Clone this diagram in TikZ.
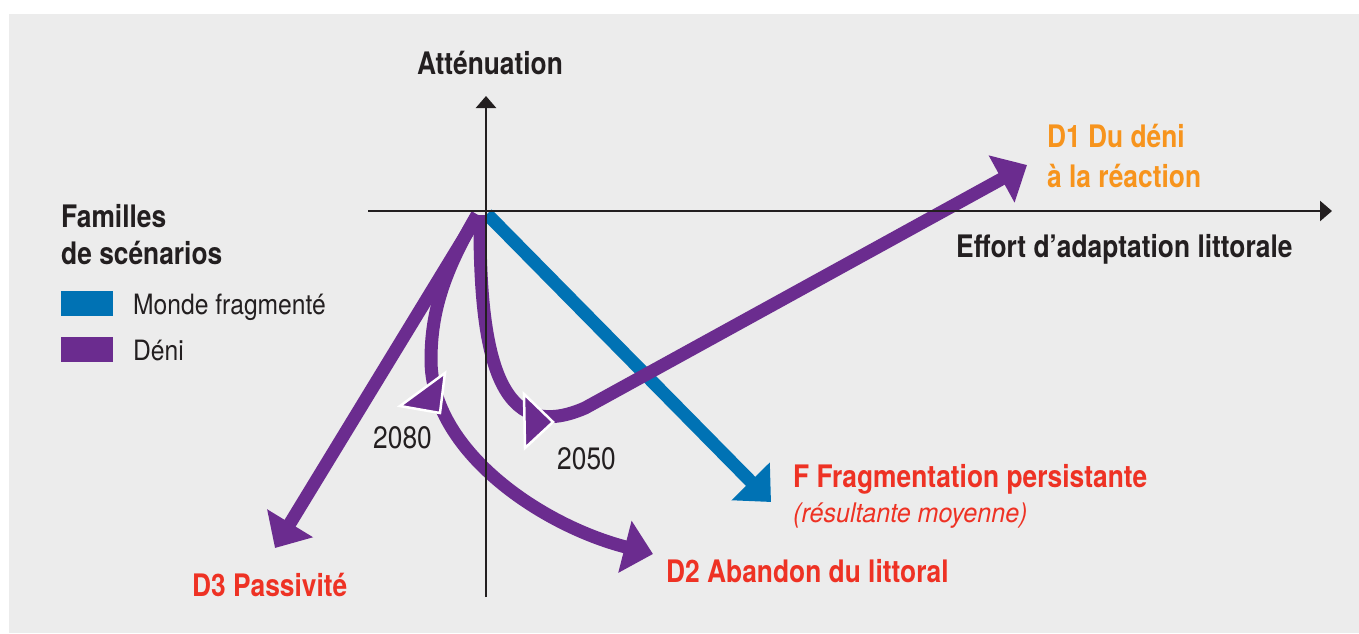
\documentclass[tikz,border=0pt]{standalone}
\usepackage{fontspec}
\setmainfont{TeX Gyre Heros}[FakeStretch=0.85]
\newfontfamily\lightfont{TeX Gyre Heros}[FakeStretch=0.88]
\newfontfamily\lightitfont{TeX Gyre Heros}[FakeStretch=0.93]
\usetikzlibrary{arrows.meta}
\definecolor{bg}{RGB}{236,236,236}
\definecolor{deni}{RGB}{107,44,143}
\definecolor{monde}{RGB}{0,114,180}
\definecolor{redlab}{RGB}{238,50,36}
\definecolor{orangelab}{RGB}{247,148,29}
\definecolor{ink}{RGB}{35,31,32}
\tikzset{
  axisline/.style={line width=2.5pt, draw=ink, -{Triangle[length=12pt,width=20pt]}},
  scen/.style={line width=13pt, -{Triangle[length=29pt,width=52pt]}},
  boldlab/.style={anchor=base west, inner sep=0pt, font=\fontsize{31}{37}\selectfont\bfseries},
  thinlab/.style={anchor=base west, inner sep=0pt, font=\fontsize{28}{33}\selectfont\lightfont, text=ink},
  yearlab/.style={anchor=base west, inner sep=0pt, font=\fontsize{31}{37}\selectfont, text=ink},
  marker/.style={fill=deni, draw=white, line width=2.5pt, line join=miter},
  swatch/.style={inner sep=0pt, minimum width=52pt, minimum height=25pt, anchor=north west},
}
\begin{document}
\begin{tikzpicture}[x=1pt,y=-1pt]
\useasboundingbox (0,0) rectangle (1359,633);
\fill[bg] (9,14) rectangle (1359,633);

% coordinates
\coordinate (O) at (486,211);
\coordinate (xl) at (368,211);
\coordinate (xr) at (1332,211);
\coordinate (yb) at (486,597);
\coordinate (yt) at (486,96);
\coordinate (bstart) at (487,214);
\coordinate (btip) at (771,502);
\coordinate (d3start) at (478,215);
\coordinate (d3tip) at (275,548);
\coordinate (d2start) at (477,215);
\coordinate (d2mid) at (431,360);
\coordinate (d2tip) at (653,554);
\coordinate (d1start) at (480,215);
\coordinate (d1bend) at (585,408);
\coordinate (d1tip) at (1027,165);

% blue scenario
\draw[scen, monde] (bstart) -- (btip);

% deni scenarios
\draw[scen, deni] (d3start) -- (d3tip);
\draw[scen, deni] (d2start) .. controls (445,270) and (431,310) .. (d2mid)
   .. controls (431,450) and (540,525) .. (d2tip);
\draw[scen, deni] (d1start) .. controls (479,360) and (500,445) .. (d1bend) -- (d1tip);

% year markers
\filldraw[marker] (400,406) -- (445,373) -- (440,413) -- cycle;
\filldraw[marker] (524,394) -- (553,422) -- (525,448) -- cycle;

% axes
\draw[axisline] (xl) -- (xr);
\draw[axisline] (yb) -- (yt);

% axis labels
\node[boldlab, text=ink] (att) at (417,74) {Atténuation};
\node[boldlab, text=ink] (eff) at (956,257) {Effort d’adaptation littorale};

% legend
\node[boldlab, text=ink] (fam1) at (61,227) {Familles};
\node[boldlab, text=ink] (fam2) at (61,264) {de scénarios};
\node[swatch, fill=monde] (sw1) at (61,291) {};
\node[swatch, fill=deni] (sw2) at (61,337) {};
\node[thinlab] (lg1) at (133,314) {Monde fragmenté};
\node[thinlab] (lg2) at (133,360) {Déni};

% scenario labels
\node[boldlab, text=orangelab] (d1a) at (1047,147) {D1 Du déni};
\node[boldlab, text=orangelab] (d1b) at (1047,187) {à la réaction};
\node[boldlab, text=redlab] (fa) at (793,487) {F Fragmentation persistante};
\node[thinlab, text=redlab, font=\fontsize{27}{32}\selectfont\lightitfont\itshape] (fb) at (793,522) {(résultante moyenne)};
\node[boldlab, text=redlab] (d2l) at (666,582) {D2 Abandon du littoral};
\node[boldlab, text=redlab] (d3l) at (192,596) {D3 Passivité};

% years
\node[yearlab] (y2080) at (373,448) {2080};
\node[yearlab] (y2050) at (557,469) {2050};
\end{tikzpicture}
\end{document}
